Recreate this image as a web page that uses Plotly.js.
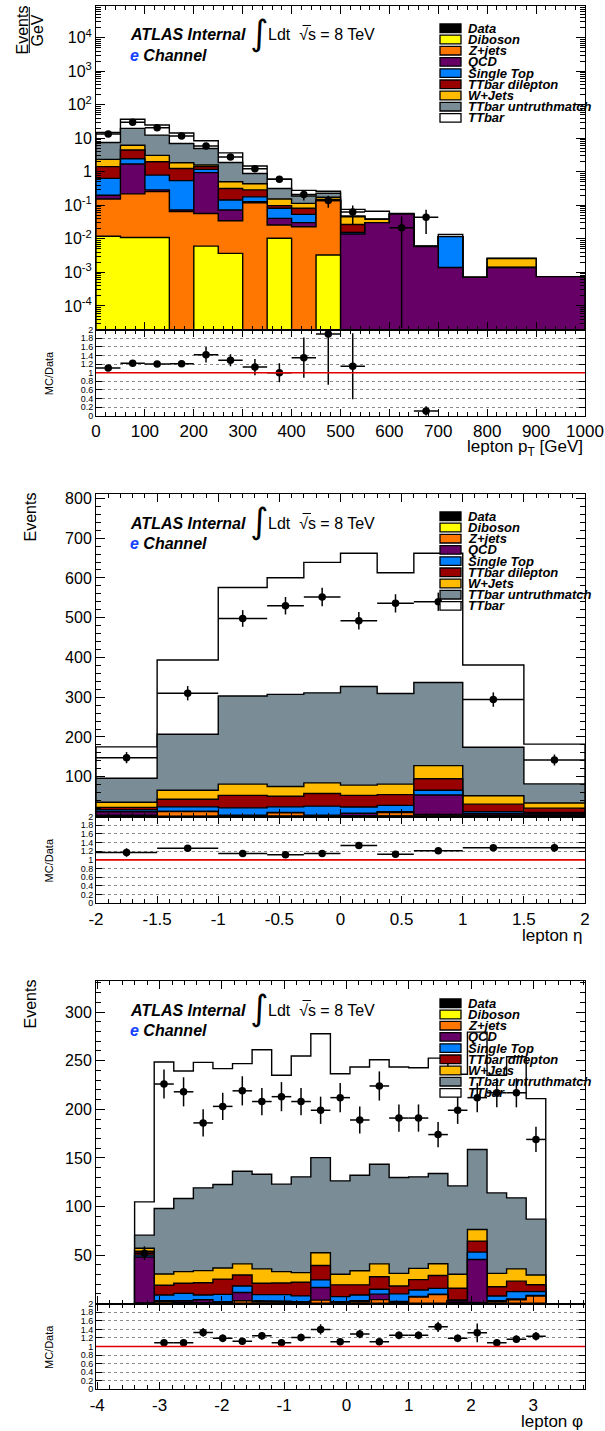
<!DOCTYPE html>
<html>
<head>
<meta charset="utf-8">
<title>e channel lepton kinematics</title>
<script src="https://cdn.plot.ly/plotly-3.0.1.min.js"></script>
<style>
  html, body { margin: 0; padding: 0; background: #ffffff; }
  #chart { width: 605px; height: 1431px; }
</style>
</head>
<body>
<div id="chart"></div>
<script>
// Samples in stacking order (bottom of the stack first)
const sampleNames  = ['Diboson', 'Z+jets', 'QCD', 'Single Top', 'TTbar dilepton', 'W+Jets', 'TTbar untruthmatch', 'TTbar'];
const sampleColors = ['#ffff00', '#ff7700', '#660066', '#0080ff', '#990000', '#ffbb00', '#7a8c96', '#ffffff'];
const legendLabels = ['Data', 'Diboson', 'Z+jets', 'QCD', 'Single Top', 'TTbar dilepton', 'W+Jets', 'TTbar untruthmatch', 'TTbar'];
const legendColors = ['#000000', '#ffff00', '#ff7700', '#660066', '#0080ff', '#990000', '#ffbb00', '#7a8c96', '#ffffff'];

// ---------- lepton pT (events / GeV) ----------
const ptEdges      = [0, 50, 100, 150, 200, 250, 300, 350, 400, 450, 500, 550, 600, 650, 700, 750, 800, 850, 900, 950, 1000];
const ptDiboson    = [0.012, 0.011, 0.011, 0, 0.0061, 0.0037, 0, 0.0104, 0, 0.0033, 0, 0, 0, 0, 0, 0, 0, 0, 0, 0];
const ptZjets      = [0.143, 0.209, 0.246, 0.065, 0.051, 0.031, 0.12, 0.0156, 0.023, 0.135, 0, 0, 0, 0, 0, 0, 0, 0, 0, 0];
const ptQCD        = [0.045, 1.49, 0.033, 0.008, 0.893, 0.038, 0.008, 0.015, 0.0075, 0.002, 0.014, 0.0305, 0.055, 0.0059, 0.0014, 0.00071, 0.0014, 0.0014, 0.00075, 0.00075];
const ptSingleTop  = [0.44, 0.76, 0.51, 0.474, 0.24, 0.072, 0.052, 0.041, 0.0235, 0.002, 0.0015, 0, 0, 0, 0.0103, 0, 0, 0, 0, 0];
const ptDilepton   = [0.79, 2.03, 1.2, 0.72, 0.24, 0.175, 0.11, 0.016, 0.028, 0.008, 0.0115, 0, 0, 0, 0, 0, 0, 0, 0, 0];
const ptWjets      = [0.93, 1.7, 1.1, 0.61, 0.17, 0.19, 0.15, 0.057, 0.033, 0.024, 0.019, 0.008, 0, 0, 0, 0, 0.0012, 0.0012, 0, 0];
const ptUntruth    = [5.2, 13.6, 9.4, 5.18, 3.4, 1.39, 0.45, 0.165, 0.075, 0.056, 0.002, 0.001, 0, 0, 0, 0, 0, 0, 0, 0];
const ptTTbar      = [7.4, 17.2, 12.5, 7.44, 3.5, 1.8, 0.61, 0.28, 0.09, 0.035, 0.028, 0.027, 0.002, 0.0001, 0.0018, 0, 0, 0, 0, 0];
const ptData       = [13.5, 30, 20.7, 11.7, 5.9, 2.8, 1.23, 0.60, 0.21, 0.14, 0.064, null, 0.0216, 0.044, null, null, null, null, null, null];
const ptDataErrUp  = [0.5, 0.8, 0.6, 0.5, 0.35, 0.24, 0.15, 0.1, 0.07, 0.055, 0.036, null, 0.025, 0.03, null, null, null, null, null, null];
const ptDataErrLo  = [0.5, 0.8, 0.6, 0.5, 0.35, 0.24, 0.15, 0.1, 0.07, 0.055, 0.036, null, 0.0216, 0.03, null, null, null, null, null, null];
const ptRatio      = [1.11, 1.22, 1.20, 1.21, 1.42, 1.29, 1.13, 1.00, 1.35, 1.90, 1.15, null, null, 0.11, null, null, null, null, null, null];
const ptRatioErr   = [0.03, 0.03, 0.03, 0.04, 0.18, 0.14, 0.19, 0.22, 0.47, 1.18, 0.77, null, null, 0.11, null, null, null, null, null, null];
const ptTickVals   = [0, 100, 200, 300, 400, 500, 600, 700, 800, 900, 1000];
const ptTickText   = ['0', '100', '200', '300', '400', '500', '600', '700', '800', '900', '1000'];
const ptYTickVals  = [1e-4, 1e-3, 1e-2, 1e-1, 1, 10, 100, 1000, 10000];
const ptYTickText  = ['10<sup>-4</sup>', '10<sup>-3</sup>', '10<sup>-2</sup>', '10<sup>-1</sup>', '1', '10', '10<sup>2</sup>', '10<sup>3</sup>', '10<sup>4</sup>'];

// ---------- lepton eta (events) ----------
const etaEdges     = [-2, -1.5, -1, -0.6, -0.3, 0, 0.3, 0.6, 1, 1.5, 2];
const etaDiboson   = [1, 1, 1, 1, 1, 1, 1, 1, 1, 2];
const etaZjets     = [2, 11.4, 1, 8, 1, 1, 9, 4, 2, 2];
const etaQCD       = [9, 0.6, 1, 1, 1.4, 6, 2, 49, 4, 3];
const etaSingleTop = [5, 11.3, 18.7, 14.3, 22.6, 16, 16, 12, 5, 3];
const etaDilepton  = [6, 19.2, 31.3, 26.7, 32, 29, 27, 29, 19, 11];
const etaWjets     = [13, 22.5, 28.5, 24.5, 26.5, 26, 26.5, 33, 21, 13];
const etaUntruth   = [60, 141, 221.5, 231.5, 226.5, 248, 228, 209, 122, 48];
const etaTTbar     = [79, 186.5, 273, 293.5, 328, 335, 303.5, 325, 207, 100];
const etaData      = [148, 310, 498, 530, 552, 492, 536, 540, 294, 142];
const etaDataErr   = [14, 18, 21, 22, 23, 22, 23, 23, 18, 14];
const etaRatio     = [1.17, 1.27, 1.15, 1.12, 1.15, 1.33, 1.13, 1.21, 1.28, 1.28];
const etaRatioErr  = [0.1, 0.05, 0.04, 0.04, 0.04, 0.04, 0.04, 0.05, 0.05, 0.1];
const etaTickVals  = [-2, -1.5, -1, -0.5, 0, 0.5, 1, 1.5, 2];
const etaTickText  = ['-2', '-1.5', '-1', '-0.5', '0', '0.5', '1', '1.5', '2'];
const etaYTickVals = [100, 200, 300, 400, 500, 600, 700, 800];

// ---------- lepton phi (events) ----------
const phiEdges     = [-3.4, -3.0857, -2.7714, -2.4571, -2.1429, -1.8286, -1.5143, -1.2, -0.8857, -0.5714, -0.2571,
                      0.0571, 0.3714, 0.6857, 1.0, 1.3143, 1.6286, 1.9429, 2.2571, 2.5714, 2.8857, 3.2];
const phiDiboson   = [0.3, 0.5, 0.5, 0.5, 0.5, 0.5, 0.5, 0.5, 0.5, 0.5, 0.5, 0.5, 0.5, 0.3, 0.5, 0.5, 0.5, 0.5, 0.5, 0.5, 0.5];
const phiZjets     = [0.5, 1.5, 1, 0.5, 0.5, 2.5, 1.5, 1, 0.5, 3.2, 0.5, 1.5, 3.7, 0.7, 6.3, 8.8, 1, 0.5, 1.5, 3.5, 7.4];
const phiQCD       = [47.2, 1, 1.5, 3, 1, 8.5, 1, 1, 1, 12.9, 1, 1, 5.6, 1.3, 0.7, 0.5, 1.5, 44.5, 1, 1, 0.6];
const phiSingleTop = [2, 6, 7.6, 5, 7.6, 6.7, 6.3, 6.8, 6, 7.9, 5.3, 6, 5, 7.8, 6.6, 6, 0.8, 7.6, 4.9, 7.4, 4.2];
const phiDilepton  = [4, 10, 10.4, 12.6, 15.7, 11.3, 11.7, 12, 14, 14.8, 12.1, 10.5, 13, 8.1, 10.7, 13.2, 12.1, 11.3, 9.6, 10.8, 6.8];
const phiWjets     = [3, 11.5, 12, 12.4, 11.5, 11.5, 14.8, 11.7, 10, 13.1, 10.9, 14.4, 13.2, 13, 11.5, 12.1, 14.4, 12, 13.7, 12.6, 10];
const phiUntruth   = [13.5, 67.5, 75.2, 85.2, 85.8, 95.3, 97.4, 90, 98.5, 97.9, 96.1, 98.3, 102.5, 98.6, 94.2, 92.8, 90.9, 82.2, 82.8, 73.1, 57.5];
const phiTTbar     = [34.3, 150.6, 131.2, 129.1, 119.2, 110.7, 128.1, 112, 124.3, 127.4, 110.2, 111.3, 107.5, 113.7, 112.3, 118.8, 114.8, 120.8, 121, 145.1, 124];
const phiData      = [52, 226, 218, 186, 203, 219, 208, 213, 208, 199, 212, 189, 224, 191, 191, 174, 199, 212, 217, 217, 169];
const phiDataErr   = [7, 15, 15, 14, 14, 15, 14, 15, 14, 14, 15, 14, 15, 14, 14, 13, 14, 15, 15, 15, 13];
const phiRatio     = [null, 1.09, 1.085, 1.33, 1.19, 1.12, 1.25, 1.09, 1.21, 1.40, 1.11, 1.29, 1.11, 1.26, 1.26, 1.46, 1.19, 1.32, 1.085, 1.17, 1.24];
const phiRatioErr  = [null, 0.07, 0.08, 0.1, 0.09, 0.08, 0.09, 0.08, 0.09, 0.12, 0.08, 0.1, 0.08, 0.09, 0.09, 0.12, 0.09, 0.22, 0.08, 0.09, 0.1];
const phiTickVals  = [-4, -3, -2, -1, 0, 1, 2, 3];
const phiTickText  = ['-4', '-3', '-2', '-1', '0', '1', '2', '3'];
const phiYTickVals = [50, 100, 150, 200, 250, 300];

// ---------- page geometry ----------
const W = 605, H = 1431;
const FONT = 'Liberation Sans, Arial, Helvetica, sans-serif';
const px = x => x / W;
const py = y => 1 - y / H;
const FX0 = 96, FX1 = 585;

const panels = [
  {
    edges: ptEdges,
    comps: [ptDiboson, ptZjets, ptQCD, ptSingleTop, ptDilepton, ptWjets, ptUntruth, ptTTbar],
    data: ptData, errUp: ptDataErrUp, errLo: ptDataErrLo,
    ratio: ptRatio, ratioErr: ptRatioErr,
    xRange: [0, 1000], xTickVals: ptTickVals, xTickText: ptTickText, xMinor: 20,
    yLog: true, yRange: [-4.71, 4.95], yTickVals: ptYTickVals, yTickText: ptYTickText,
    xTitle: 'lepton p<sub>T</sub> [GeV]',
    top: 6, mid: 329.7, bot: 415.7
  },
  {
    edges: etaEdges,
    comps: [etaDiboson, etaZjets, etaQCD, etaSingleTop, etaDilepton, etaWjets, etaUntruth, etaTTbar],
    data: etaData, errUp: etaDataErr, errLo: etaDataErr,
    ratio: etaRatio, ratioErr: etaRatioErr,
    xRange: [-2, 2], xTickVals: etaTickVals, xTickText: etaTickText, xMinor: 0.1,
    yLog: false, yRange: [0, 811], yTickVals: etaYTickVals, yMinor: 20,
    xTitle: 'lepton η',
    top: 494, mid: 816.5, bot: 903.3
  },
  {
    edges: phiEdges,
    comps: [phiDiboson, phiZjets, phiQCD, phiSingleTop, phiDilepton, phiWjets, phiUntruth, phiTTbar],
    data: phiData, errUp: phiDataErr, errLo: phiDataErr,
    ratio: phiRatio, ratioErr: phiRatioErr,
    xRange: [-4.02, 3.83], xTickVals: phiTickVals, xTickText: phiTickText, xMinor: 0.2,
    yLog: false, yRange: [0, 332], yTickVals: phiYTickVals, yMinor: 10,
    xTitle: 'lepton φ',
    top: 981, mid: 1303.7, bot: 1389.3
  }
];

const axSuffix = i => (i === 1 ? '' : String(i));
const LOG_BASE = 1e-6;

// Stacked histograms: each cumulative sum is a filled step outline, largest drawn first
function stackTraces(p, xa, ya) {
  const n = p.edges.length - 1;
  const cum = [];
  let run = new Array(n).fill(0);
  p.comps.forEach(c => { run = run.map((v, i) => v + (c[i] || 0)); cum.push(run.slice()); });
  const base = p.yLog ? LOG_BASE : 0;
  const out = [];
  for (let k = cum.length - 1; k >= 0; k--) {
    const tops = cum[k].map(v => (p.yLog ? Math.max(v, LOG_BASE) : v));
    const x = [p.edges[0]], y = [base];
    for (let i = 0; i < n; i++) {
      x.push(p.edges[i], p.edges[i + 1]);
      y.push(tops[i], tops[i]);
    }
    x.push(p.edges[n]); y.push(base);
    out.push({
      type: 'scatter', mode: 'lines', x, y, xaxis: xa, yaxis: ya,
      fill: 'toself', fillcolor: sampleColors[k],
      line: { color: '#000000', width: 1.4 },
      hoverinfo: 'skip', showlegend: false, name: sampleNames[k]
    });
  }
  return out;
}

function pointsTrace(p, vals, up, lo, xa, ya, size) {
  const n = p.edges.length - 1;
  const centers = [], half = [];
  for (let i = 0; i < n; i++) {
    centers.push((p.edges[i] + p.edges[i + 1]) / 2);
    half.push((p.edges[i + 1] - p.edges[i]) / 2);
  }
  // on a log scale a lower error reaching zero is drawn down to the frame
  const lower = lo.map((e, i) => (e == null || vals[i] == null) ? null
    : (p.yLog && e >= vals[i] ? vals[i] * 0.999 : e));
  return {
    type: 'scatter', mode: 'markers', x: centers, y: vals, xaxis: xa, yaxis: ya,
    marker: { color: '#000000', size: size },
    error_y: { type: 'data', symmetric: false, array: up, arrayminus: lower, visible: true, color: '#000000', thickness: 1.5, width: 0 },
    error_x: { type: 'data', array: half, visible: true, color: '#000000', thickness: 1.5, width: 0 },
    hoverinfo: 'skip', showlegend: false, name: 'Data'
  };
}

const traces = [];
const layout = {
  width: W, height: H,
  margin: { l: 0, r: 0, t: 0, b: 0 },
  paper_bgcolor: '#ffffff', plot_bgcolor: '#ffffff',
  showlegend: false,
  font: { family: FONT, color: '#000000' },
  shapes: [], annotations: []
};

const frameAxis = {
  showline: true, linecolor: '#000000', linewidth: 1, mirror: 'allticks',
  ticks: 'inside', tickcolor: '#000000', tickwidth: 1,
  zeroline: false, showgrid: false, fixedrange: true
};

function text(x, y, t, opts) {
  layout.annotations.push(Object.assign({
    xref: 'paper', yref: 'paper', x: px(x), y: py(y), text: t, showarrow: false,
    xanchor: 'left', yanchor: 'middle', font: { family: FONT, size: 16, color: '#000000' }
  }, opts || {}));
}

panels.forEach((p, k) => {
  const im = 2 * k + 1, ir = 2 * k + 2;
  const xm = 'x' + axSuffix(im), ym = 'y' + axSuffix(im);
  const xr = 'x' + axSuffix(ir), yr = 'y' + axSuffix(ir);

  // main pad
  layout['xaxis' + axSuffix(im)] = Object.assign({}, frameAxis, {
    domain: [px(FX0), px(FX1)], anchor: ym, range: p.xRange,
    tickmode: 'array', tickvals: p.xTickVals, ticklen: 8, showticklabels: false,
    minor: { ticks: 'inside', ticklen: 4, tickcolor: '#000000', dtick: p.xMinor, tick0: 0, showgrid: false }
  });
  const yMain = Object.assign({}, frameAxis, {
    domain: [py(p.mid), py(p.top)], anchor: xm, range: p.yRange,
    tickmode: 'array', tickvals: p.yTickVals, ticklen: 9,
    tickfont: { family: FONT, size: 16, color: '#000000' }
  });
  if (p.yLog) {
    yMain.type = 'log';
    yMain.ticktext = p.yTickText;
    yMain.minor = { ticks: 'inside', ticklen: 5, tickcolor: '#000000', dtick: 'D1', showgrid: false };
  } else {
    yMain.minor = { ticks: 'inside', ticklen: 5, tickcolor: '#000000', dtick: p.yMinor, tick0: 0, showgrid: false };
  }
  layout['yaxis' + axSuffix(im)] = yMain;

  // ratio pad
  layout['xaxis' + axSuffix(ir)] = Object.assign({}, frameAxis, {
    domain: [px(FX0), px(FX1)], anchor: yr, range: p.xRange,
    tickmode: 'array', tickvals: p.xTickVals, ticktext: p.xTickText, ticklen: 7,
    tickfont: { family: FONT, size: 17, color: '#000000' },
    minor: { ticks: 'inside', ticklen: 4, tickcolor: '#000000', dtick: p.xMinor, tick0: 0, showgrid: false }
  });
  layout['yaxis' + axSuffix(ir)] = Object.assign({}, frameAxis, {
    domain: [py(p.bot), py(p.mid)], anchor: xr, range: [0, 2],
    tickmode: 'linear', tick0: 0, dtick: 0.2, ticklen: 6,
    tickfont: { family: FONT, size: 9, color: '#000000' },
    showgrid: true, gridcolor: '#8a8a8a', gridwidth: 1, griddash: 'dot'
  });

  traces.push(...stackTraces(p, xm, ym));
  traces.push(pointsTrace(p, p.data, p.errUp, p.errLo, xm, ym, 7.5));
  traces.push(pointsTrace(p, p.ratio, p.ratioErr, p.ratioErr, xr, yr, 7.5));

  // unity line of the ratio pad
  layout.shapes.push({
    type: 'line', xref: 'paper', x0: px(FX0), x1: px(FX1), yref: yr, y0: 1, y1: 1,
    line: { color: '#e00000', width: 1.6 }
  });

  // labels inside the main pad
  text(128, p.top + 29, '<b><i>ATLAS Internal</i></b>', { font: { family: FONT, size: 16, color: '#000000' } });
  text(248, p.top + 27, '∫', { font: { family: 'DejaVu Sans, ' + FONT, size: 35, color: '#000000' } });
  text(266, p.top + 29, 'Ldt  √s = 8 TeV', { font: { family: FONT, size: 16, color: '#000000' } });
  // bar over the s of the square root
  layout.shapes.push({
    type: 'line', xref: 'paper', yref: 'paper',
    x0: px(302.5), x1: px(311), y0: py(p.top + 19.5), y1: py(p.top + 19.5),
    line: { color: '#000000', width: 1 }
  });
  text(128, p.top + 49, '<b><i><span style="color:#1440ff">e</span> Channel</i></b>', { font: { family: FONT, size: 16, color: '#000000' } });

  // legend
  legendLabels.forEach((lab, i) => {
    const cy = p.top + 22.3 + i * 11.2;
    layout.shapes.push({
      type: 'rect', xref: 'paper', yref: 'paper',
      x0: px(440), x1: px(461), y0: py(cy + 4.3), y1: py(cy - 4.3),
      fillcolor: legendColors[i], line: { color: '#000000', width: 1.3 }
    });
    text(466, cy, '<b><i>' + lab + '</i></b>', { font: { family: FONT, size: 13, color: '#000000' } });
  });

  // axis titles
  text(FX1, p.bot + 32, p.xTitle, { xanchor: 'right', font: { family: FONT, size: 17, color: '#000000' } });
  text(48.5, (p.mid + p.bot) / 2, 'MC/Data', { xanchor: 'center', textangle: -90, font: { family: FONT, size: 11, color: '#000000' } });
  if (k === 0) {
    text(21.5, p.top + 24, 'Events', { xanchor: 'center', textangle: -90, font: { family: FONT, size: 16, color: '#000000' } });
    text(37.5, p.top + 25, 'GeV', { xanchor: 'center', textangle: -90, font: { family: FONT, size: 16, color: '#000000' } });
    layout.shapes.push({
      type: 'line', xref: 'paper', yref: 'paper', x0: px(29.3), x1: px(29.3), y0: py(p.top + 1), y1: py(p.top + 47),
      line: { color: '#000000', width: 1 }
    });
  } else {
    text(30, p.top + 23.5, 'Events', { xanchor: 'center', textangle: -90, font: { family: FONT, size: 16, color: '#000000' } });
  }
});

Plotly.newPlot('chart', traces, layout, { staticPlot: true, displayModeBar: false });
</script>
</body>
</html>
